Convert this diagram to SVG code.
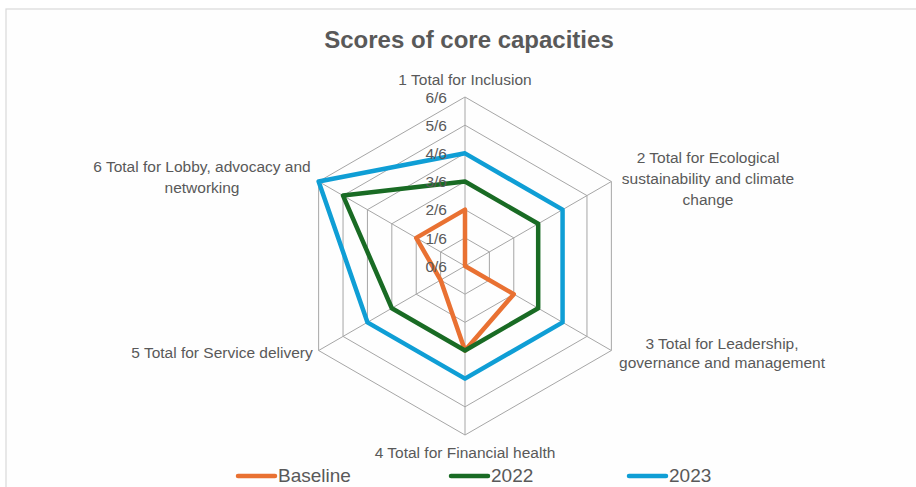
<svg xmlns="http://www.w3.org/2000/svg" width="916" height="487" viewBox="0 0 916 487">
<style>
.t{font-family:"Liberation Sans",Arial,sans-serif;fill:#595959}
.ax{font-size:15.5px;text-anchor:middle}
.tk{font-size:15.5px;text-anchor:end}
.lg{font-size:19px}
.grid{fill:none;stroke:#a6a6a6;stroke-width:1}
.ser{fill:none;stroke-width:4.5;stroke-linejoin:round}
</style>
<rect x="0" y="0" width="916" height="487" fill="#ffffff"/>
<rect x="6" y="9" width="920" height="490" fill="#fefefe" stroke="#d9d9d9" stroke-width="1.2"/>
<text class="t" x="469" y="48" font-size="24" font-weight="bold" text-anchor="middle">Scores of core capacities</text>
<g id="grid">
<polygon class="grid" points="465,237.83 489.39,251.92 489.39,280.08 465,294.17 440.61,280.08 440.61,251.92"/>
<polygon class="grid" points="465,209.67 513.78,237.83 513.78,294.17 465,322.33 416.22,294.17 416.22,237.83"/>
<polygon class="grid" points="465,181.5 538.18,223.75 538.18,308.25 465,350.5 391.82,308.25 391.82,223.75"/>
<polygon class="grid" points="465,153.33 562.57,209.67 562.57,322.33 465,378.67 367.43,322.33 367.43,209.67"/>
<polygon class="grid" points="465,125.17 586.96,195.58 586.96,336.42 465,406.83 343.04,336.42 343.04,195.58"/>
<polygon class="grid" points="465,97 611.36,181.5 611.36,350.5 465,435 318.64,350.5 318.64,181.5"/>
<path class="grid" d="M465,266L465,97M465,266L611.36,181.5M465,266L611.36,350.5M465,266L465,435M465,266L318.64,350.5M465,266L318.64,181.5"/>
</g>
<g id="connectors">
<polygon id="baseline" class="ser" stroke="#E97132" points="465,209.67 465,266 513.78,294.17 465,350.5 440.61,280.08 416.22,237.83"/>
<polygon id="s2022" class="ser" stroke="#196B24" points="465,181.5 538.18,223.75 538.18,308.25 465,350.5 391.82,308.25 343.04,195.58"/>
<polygon id="s2023" class="ser" stroke="#0F9ED5" points="465,153.33 562.57,209.67 562.57,322.33 465,378.67 367.43,322.33 318.64,181.5"/>
</g>
<g id="ticks" class="t tk">
<text x="447" y="271.5">0/6</text>
<text x="447" y="243.5">1/6</text>
<text x="447" y="215">2/6</text>
<text x="447" y="187">3/6</text>
<text x="447" y="159">4/6</text>
<text x="447" y="130.5">5/6</text>
<text x="447" y="102.5">6/6</text>
</g>
<g id="axis1" class="t ax"><text x="465" y="85">1 Total for Inclusion</text></g>
<g id="axis2" class="t ax"><text x="708" y="163">2 Total for Ecological</text><text x="708" y="184">sustainability and climate</text><text x="708" y="205">change</text></g>
<g id="axis3" class="t ax"><text x="722" y="349">3 Total for Leadership,</text><text x="722" y="368">governance and management</text></g>
<g id="axis4" class="t ax"><text x="465" y="458">4 Total for Financial health</text></g>
<g id="axis5" class="t ax"><text x="222" y="358">5 Total for Service delivery</text></g>
<g id="axis6" class="t ax"><text x="202" y="172">6 Total for Lobby, advocacy and</text><text x="202" y="193">networking</text></g>
<g id="legend">
<line x1="238" y1="476" x2="275" y2="476" stroke="#E97132" stroke-width="4.5" stroke-linecap="round"/>
<text class="t lg" x="278" y="482">Baseline</text>
<line x1="451" y1="476" x2="488" y2="476" stroke="#196B24" stroke-width="4.5" stroke-linecap="round"/>
<text class="t lg" x="491" y="482">2022</text>
<line x1="629" y1="476" x2="666" y2="476" stroke="#0F9ED5" stroke-width="4.5" stroke-linecap="round"/>
<text class="t lg" x="669" y="482">2023</text>
</g>
</svg>
